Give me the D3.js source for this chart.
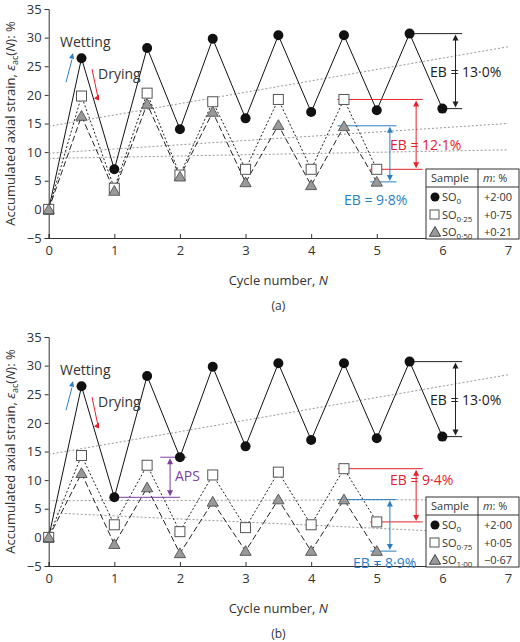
<!DOCTYPE html>
<html><head><meta charset="utf-8">
<script src="https://cdn.jsdelivr.net/npm/d3@7"></script>
<style>body{margin:0;background:#fff}text{font-family:"Open Sans",sans-serif;fill:#333}</style>
</head><body><svg id="chart" width="520" height="642"></svg>
<script>
// x values (cycle number)
var cycles = [0,0.5,1,1.5,2,2.5,3,3.5,4,4.5,5,5.5,6];
var yTicks = [-5,0,5,10,15,20,25,30,35];
var xTicks = [0,1,2,3,4,5,6,7];

// panel (a)
var so0 = [0,26.4,7,28.2,14,29.8,15.9,30.4,17,30.4,17.3,30.7,17.6];
var so025 = [0,19.8,3.7,20.3,6,18.8,7,19.2,7,19.2,7];
var so050 = [0,16.3,3.2,18.4,5.7,17,4.7,14.7,4.2,14.5,4.8];
var trendA = [[14.5,28.4],[9.8,15],[8.9,10.4]];
var legendA = [["SO","0","+2·00"],["SO","0·25","+0·75"],["SO","0·50","+0·21"]];

// panel (b)
var so075 = [0,14.3,2.2,12.6,1,10.9,1.7,11.4,2.2,12,2.7];
var so100 = [0,11.2,-1.2,8.7,-2.8,6.2,-2.4,6.6,-2.4,6.6,-2.4];
var trendB = [[14.5,28.4],[6.4,6.6],[4.3,0.5]];
var legendB = [["SO","0","+2·00"],["SO","0·75","+0·05"],["SO","1·00","−0·67"]];

var RED = "#e8202a", BLUE = "#2a7fc4", PURPLE = "#7d3fa3";

var svg = d3.select("#chart");

function drawPanel(top, label, s2, s3, trend, legend, ebRed, ebBlue, aps) {
    var g = svg.append("g");
    var x = d3.scaleLinear().domain([0,7]).range([48.7,508]);
    var y = d3.scaleLinear().domain([-5,35]).range([top+238,top+9]);

    // axes
    g.append("g").attr("transform","translate(0,"+y(-5)+")")
        .call(d3.axisBottom(x).tickValues(xTicks).tickSize(-4).tickPadding(8).tickFormat(d3.format("d")));
    g.append("g").attr("transform","translate("+x(0)+",0)")
        .call(d3.axisLeft(y).tickValues(yTicks).tickSize(4).tickFormat(function(d){return d<0?"−"+(-d):d;}));
    g.selectAll(".domain").attr("stroke","#333");
    g.selectAll(".tick line").attr("stroke","#333");
    g.selectAll(".tick text").style("font-size","13px").attr("fill","#333");

    // trend lines
    trend.forEach(function(t){
        g.append("line").attr("x1",x(0)).attr("x2",x(7)).attr("y1",y(t[0])).attr("y2",y(t[1]))
            .attr("stroke","#999").attr("stroke-dasharray","2,2").attr("stroke-width",1);
    });

    var line = d3.line().x(function(d,i){return x(cycles[i]);}).y(function(d){return y(d);});
    g.append("path").datum(so0).attr("d",line).attr("fill","none").attr("stroke","#111").attr("stroke-width",1);
    g.append("path").datum(s2).attr("d",line).attr("fill","none").attr("stroke","#222").attr("stroke-dasharray","2,2");
    g.append("path").datum(s3).attr("d",line).attr("fill","none").attr("stroke","#222").attr("stroke-dasharray","6,3");

    // annotations
    function eb(x1a, x1b, ya, x2a, x2b, yb, ax, col, txt, tx, ty, anchor) {
        g.append("line").attr("x1",x(x1a)).attr("x2",x(x1b)).attr("y1",y(ya)).attr("y2",y(ya)).attr("stroke",col);
        g.append("line").attr("x1",x(x2a)).attr("x2",x(x2b)).attr("y1",y(yb)).attr("y2",y(yb)).attr("stroke",col);
        g.append("line").attr("x1",x(ax)).attr("x2",x(ax)).attr("y1",y(ya)+5).attr("y2",y(yb)-5).attr("stroke",col);
        g.append("path").attr("d","M"+x(ax)+","+(y(ya)+1)+"l-3,6h6z").attr("fill",col);
        g.append("path").attr("d","M"+x(ax)+","+(y(yb)-1)+"l-3,-6h6z").attr("fill",col);
        g.append("text").attr("x",tx).attr("y",ty).attr("text-anchor",anchor||"start")
            .style("font-size","14px").style("fill",col).text(txt);
    }
    eb(5.45,6.3,30.7,5.95,6.3,17.6,6.2,"#222","EB = 13·0%",430,y(23.2));
    eb(4.4,5.7,ebRed[0],4.9,5.7,ebRed[1],5.6,RED,ebRed[2],390,ebRed[3]);
    eb(4.4,5.3,ebBlue[0],4.9,5.3,ebBlue[1],5.2,BLUE,ebBlue[2],ebBlue[3],ebBlue[4]);
    if (aps) eb(1.7,2.1,14,1.0,2.0,7,1.85,PURPLE,"APS",175,y(9.8));

    // wetting / drying arrows
    g.append("line").attr("x1",66).attr("y1",y(22.2)).attr("x2",72).attr("y2",y(26.2)).attr("stroke",BLUE);
    g.append("path").attr("d","M73,"+y(27.3)+"l-4,5l5,1z").attr("fill",BLUE);
    g.append("text").attr("x",60).attr("y",y(28.3)).style("font-size","14px").text("Wetting");
    g.append("line").attr("x1",92).attr("y1",y(24.5)).attr("x2",98).attr("y2",y(19.5)).attr("stroke",RED);
    g.append("path").attr("d","M99,"+y(19)+"l-5,-2l5,-4z").attr("fill",RED);
    g.append("text").attr("x",98).attr("y",y(22.8)).style("font-size","14px").text("Drying");

    // markers
    g.selectAll(".c").data(so0).enter().append("circle")
        .attr("cx",function(d,i){return x(cycles[i]);}).attr("cy",function(d){return y(d);}).attr("r",5).attr("fill","#111");
    g.selectAll(".s").data(s2).enter().append("rect")
        .attr("x",function(d,i){return x(cycles[i])-5;}).attr("y",function(d){return y(d)-5;})
        .attr("width",10).attr("height",10).attr("fill","#fff").attr("stroke","#555");
    var tri = d3.symbol().type(d3.symbolTriangle).size(55);
    g.selectAll(".t").data(s3).enter().append("path").attr("d",tri)
        .attr("transform",function(d,i){return "translate("+x(cycles[i])+","+(y(d)+1)+")";})
        .attr("fill","#999").attr("stroke","#444").attr("stroke-width",0.8);

    // legend table
    var lx = 426, ly = top + 169, lw = 93, lh = 70;
    var lg = g.append("g");
    lg.append("rect").attr("x",lx).attr("y",ly).attr("width",lw).attr("height",lh).attr("fill","#fff").attr("stroke","#333");
    lg.append("line").attr("x1",lx+52).attr("x2",lx+52).attr("y1",ly).attr("y2",ly+lh).attr("stroke","#333");
    lg.append("line").attr("x1",lx).attr("x2",lx+lw).attr("y1",ly+18).attr("y2",ly+18).attr("stroke","#333");
    lg.append("text").attr("x",lx+5).attr("y",ly+13).style("font-size","11px").text("Sample");
    lg.append("text").attr("x",lx+57).attr("y",ly+13).style("font-size","11px").html("<tspan font-style='italic'>m</tspan>: %");
    legend.forEach(function(r,i){
        var ry = ly + 29 + i*17.5;
        if (i==0) lg.append("circle").attr("cx",lx+9).attr("cy",ry-1).attr("r",4.5).attr("fill","#111");
        if (i==1) lg.append("rect").attr("x",lx+4).attr("y",ry-5.5).attr("width",9).attr("height",9).attr("fill","#fff").attr("stroke","#555");
        if (i==2) lg.append("path").attr("d",tri).attr("transform","translate("+(lx+9)+","+ry+")").attr("fill","#999").attr("stroke","#444");
        var t = lg.append("text").attr("x",lx+16).attr("y",ry+3).style("font-size","11px");
        t.append("tspan").text(r[0]);
        t.append("tspan").attr("dy",3).style("font-size","8px").text(r[1]);
        lg.append("text").attr("x",lx+58).attr("y",ry+3).style("font-size","11px").text(r[2]);
    });

    // axis titles
    g.append("text").attr("x",(x(0)+x(7))/2).attr("y",top+285).attr("text-anchor","middle").style("font-size","13px")
        .html("Cycle number, <tspan font-style='italic'>N</tspan>");
    g.append("text").attr("transform","translate(15,"+(y(15))+") rotate(-90)").attr("text-anchor","middle").style("font-size","13px")
        .html("Accumulated axial strain, <tspan font-style='italic'>ε</tspan><tspan dy='3' font-size='9px'>ac</tspan><tspan dy='-3'>(</tspan><tspan font-style='italic'>N</tspan>): %");
    g.append("text").attr("x",(x(0)+x(7))/2).attr("y",top+310).attr("text-anchor","middle").style("font-size","12px").text(label);
}

drawPanel(0, "(a)", so025, so050, trendA, legendA,
    [19.2,7,"EB = 12·1%",150], [14.6,4.8,"EB = 9·8%",344,205]);
drawPanel(328, "(b)", so075, so100, trendB, legendB,
    [12,2.7,"EB = 9·4%",328+157], [6.6,-2.4,"EB = 8·9%",353,568], true);
</script></body></html>
